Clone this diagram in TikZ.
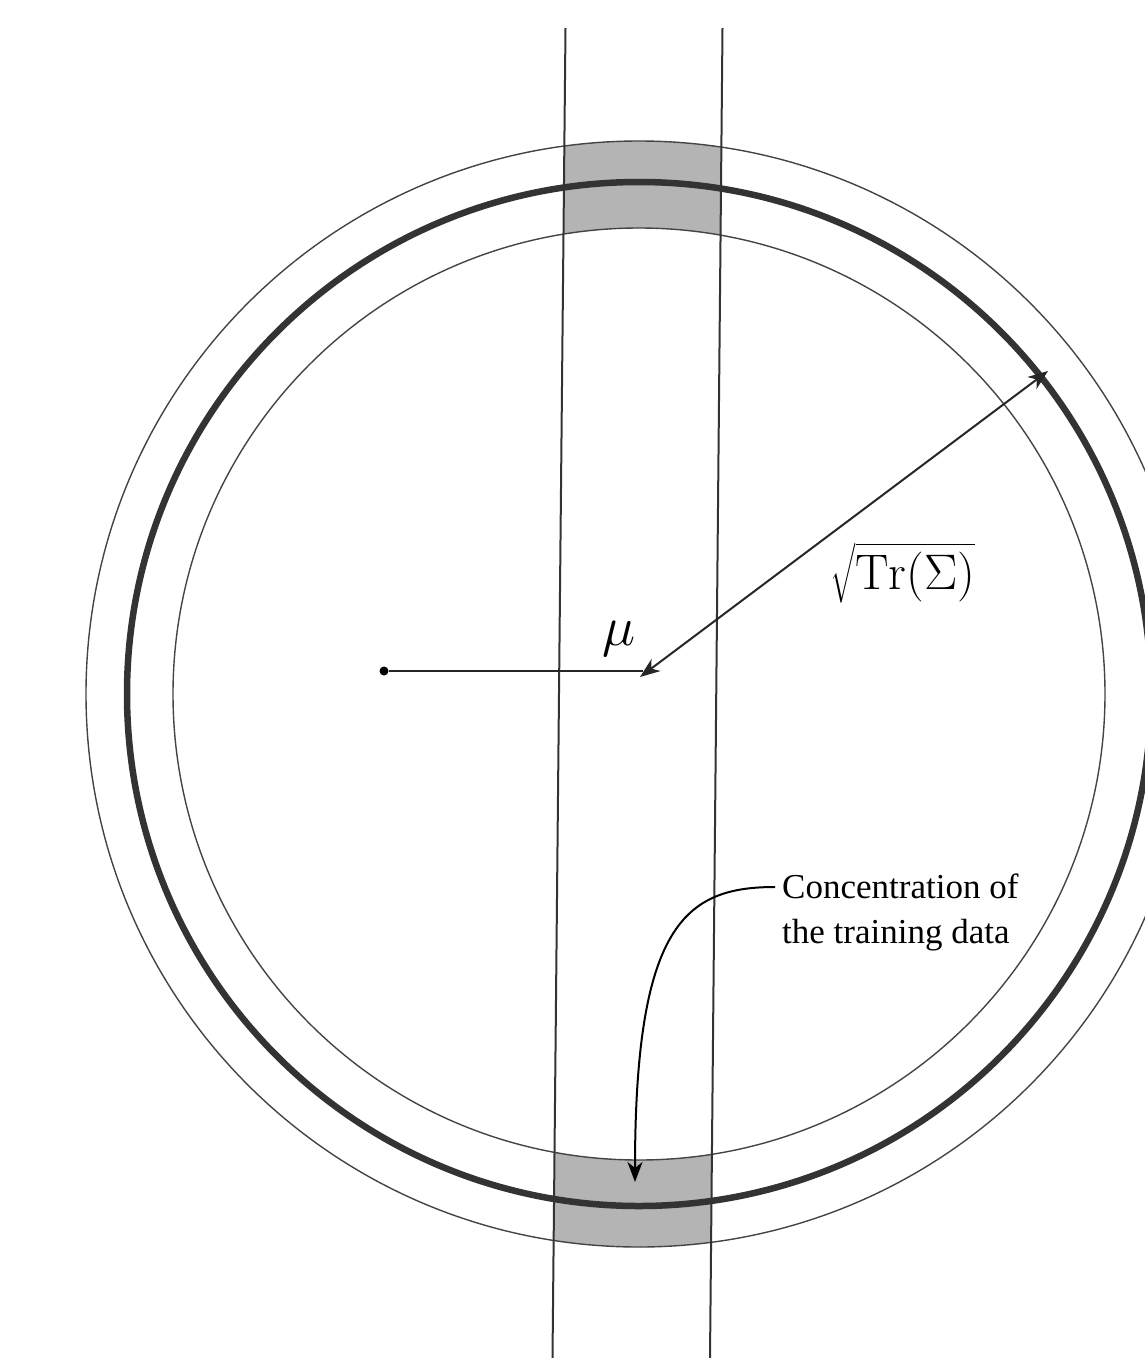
\RequirePackage{fix-cm}
\documentclass[tikz,border=0pt]{standalone}
\usepackage{amsmath}
\usepackage{fontspec}
\newfontfamily\timesfont{Liberation Serif}
\usetikzlibrary{arrows.meta}
\definecolor{bandgray}{HTML}{B4B4B4}
\definecolor{ringdark}{HTML}{333333}
\definecolor{thinring}{HTML}{444444}
\tikzset{
  thincircle/.style={draw=thinring, line width=1.4pt},
  thickcircle/.style={draw=ringdark, line width=6.5pt},
  stripline/.style={draw=ringdark, line width=2pt},
  arrowline/.style={draw=black!85, line width=2pt},
  tip/.style={-{Stealth[length=20pt,width=15pt,inset=6pt]}},
}
\begin{document}
\begin{tikzpicture}[x=1pt,y=-1pt]
\useasboundingbox (0,0) rectangle (1145,1358);
\coordinate (C) at (639,694);
% strip corners
\coordinate (LT) at (565.5,28);
\coordinate (LB) at (552.5,1358);
\coordinate (RT) at (722.5,28);
\coordinate (RB) at (710,1358);
% gray bands
\begin{scope}
  \clip (LT) -- (RT) -- (RB) -- (LB) -- cycle;
  \fill[bandgray, even odd rule] (C) circle (553pt) (C) circle (466pt);
\end{scope}
% circles
\draw[thincircle] (C) circle (553pt);
\draw[thincircle] (C) circle (466pt);
\draw[thickcircle] (C) circle (512pt);
% strip lines
\draw[stripline] (LT) -- (LB);
\draw[stripline] (RT) -- (RB);
% mean
\node[circle, fill=black, inner sep=0pt, minimum size=9pt] (dot) at (384,671) {};
\coordinate (meanend) at (643,671);
\draw[arrowline] (dot) -- (meanend);
\node (mulabel) at (619,639) {\fontsize{56}{66}\selectfont$\mu$};
% radius arrow
\coordinate (rin) at (640,677);
\coordinate (rout) at (1048,371);
\draw[arrowline, {Stealth[length=20pt,width=15pt,inset=6pt]}-{Stealth[length=20pt,width=15pt,inset=6pt]}] (rin) -- (rout);
\node (trlabel) at (903,573) {\fontsize{50}{60}\selectfont$\displaystyle\sqrt{\mathrm{Tr}(\Sigma)}$};
% annotation
\node[anchor=west, align=left, inner sep=0pt, font=\timesfont\fontsize{35}{45}\selectfont] (conc) at (782,912) {Concentration of\\the training data};
\coordinate (start) at (775,887);
\coordinate (target) at (635,1182);
\draw[arrowline, black, tip] (start) .. controls (685,887) and (635,925) .. (target);
\end{tikzpicture}
\end{document}
